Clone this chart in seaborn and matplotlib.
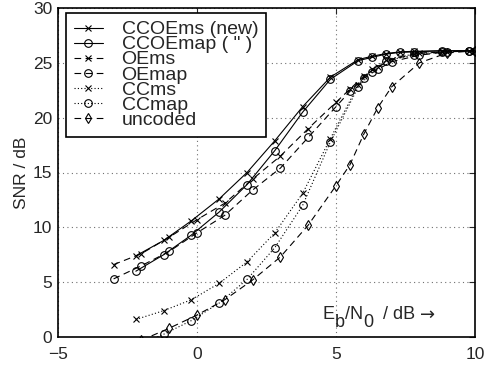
import matplotlib
matplotlib.use("Agg")
import matplotlib.pyplot as plt
import seaborn as sns
import pandas as pd

# ---- data ----
x_ccoe = [-2.2, -1.2, -0.2, 0.8, 1.8, 2.8, 3.8, 4.8, 5.8, 6.3, 6.8, 7.3, 7.8, 8.8, 9.8]
ccoe_ms = [7.4, 8.8, 10.6, 12.6, 15.0, 17.9, 21.0, 23.7, 25.3, 25.6, 25.85, 26.0, 26.05, 26.1, 26.1]
ccoe_map = [6.0, 7.5, 9.3, 11.4, 13.9, 17.0, 20.5, 23.5, 25.2, 25.5, 25.8, 25.95, 26.0, 26.1, 26.1]

x_oe = [-3, -2, -1, 0, 1, 2, 3, 4, 5, 5.5, 6, 6.5, 7, 8, 9, 10]
oe_ms = [6.6, 7.6, 9.1, 10.7, 12.2, 14.4, 16.5, 19.0, 21.4, 22.6, 23.8, 24.6, 25.3, 25.9, 26.0, 26.1]
oe_map = [5.3, 6.5, 7.8, 9.5, 11.1, 13.4, 15.4, 18.2, 21.0, 22.4, 23.6, 24.4, 25.1, 25.7, 26.0, 26.1]

x_cc = [-2.2, -1.2, -0.2, 0.8, 1.8, 2.8, 3.8, 4.8, 5.8, 6.3, 6.8, 7.8, 8.8, 9.8]
cc_ms = [1.6, 2.4, 3.4, 4.9, 6.85, 9.5, 13.1, 18.1, 23.0, 24.4, 25.3, 25.8, 26.0, 26.1]
cc_map = [-0.8, 0.25, 1.5, 3.1, 5.25, 8.15, 12.0, 17.8, 22.8, 24.2, 25.2, 25.7, 26.0, 26.1]

x_unc = [-2, -1, 0, 1, 2, 3, 4, 5, 5.5, 6, 6.5, 7, 8, 9, 10]
uncoded = [-0.3, 0.8, 2.0, 3.4, 5.2, 7.3, 10.2, 13.8, 15.7, 18.5, 20.9, 22.8, 25.0, 25.9, 26.1]

labels = ["CCOEms (new)", "CCOEmap ( \" )", "OEms", "OEmap", "CCms", "CCmap", "uncoded"]
xticks = [-5, 0, 5, 10]
yticks = [0, 5, 10, 15, 20, 25, 30]

series = [
    (x_ccoe, ccoe_ms, labels[0], "-", "x"),
    (x_ccoe, ccoe_map, labels[1], "-", "o"),
    (x_oe, oe_ms, labels[2], (0, (6, 4)), "x"),
    (x_oe, oe_map, labels[3], (0, (6, 4)), "o"),
    (x_cc, cc_ms, labels[4], (0, (1, 2)), "x"),
    (x_cc, cc_map, labels[5], (0, (1, 2)), "o"),
    (x_unc, uncoded, labels[6], (0, (6, 4)), "d"),
]

sns.set_style("white")
plt.rcParams["font.family"] = ["Liberation Sans", "DejaVu Sans"]

fig = plt.figure(figsize=(4.89, 3.66), dpi=100)
ax = fig.add_axes([58 / 489, 1 - 337 / 366, 417 / 489, 329 / 366])

for xs, ys, lab, ls, mk in series:
    df = pd.DataFrame({"x": xs, "y": ys})
    sns.lineplot(data=df, x="x", y="y", ax=ax, color="black", linestyle=ls,
                 linewidth=0.8, marker=mk, markersize=5.5 if mk != "x" else 4.5,
                 markerfacecolor="none", markeredgecolor="black",
                 markeredgewidth=0.8, label=lab, estimator=None, sort=False)

ax.set_xlim(-5, 10)
ax.set_ylim(0, 30)
ax.set_xticks(xticks)
ax.set_yticks(yticks)
ax.set_xlabel("")
ax.set_ylabel("SNR / dB", fontsize=12.5, labelpad=3)
ax.tick_params(axis="both", which="both", direction="in", length=4, width=0.8,
               top=True, right=True, labelsize=12.5)
ax.tick_params(axis="x", pad=7)
ax.tick_params(axis="y", pad=4)
ax.grid(True, linestyle=(0, (1, 3)), color="#707070", linewidth=0.8)
for s in ax.spines.values():
    s.set_linewidth(1.2)
    s.set_color("black")

# x-axis label written inside the axes, with full-size lowered subscripts
pieces = [("E", 0, None), ("b", -7.5, None), ("/N", 0, None), ("0", -7.5, None),
          ("  / dB ", 0, None), ("\u2192", 0, "DejaVu Sans")]
fig.canvas.draw()
renderer = fig.canvas.get_renderer()
offset = 0.0
for txt, dy, fam in pieces:
    kw = {"family": fam} if fam else {}
    t = ax.annotate(txt, xy=(4.52, 1.6), xycoords="data",
                    xytext=(offset, dy), textcoords="offset pixels",
                    fontsize=13, ha="left", va="baseline", **kw)
    bb = t.get_window_extent(renderer)
    offset += bb.width

leg = ax.legend(loc="upper left", bbox_to_anchor=(0.019, 0.985), borderaxespad=0,
                fontsize=14, frameon=True, fancybox=False, framealpha=1,
                edgecolor="black", handlelength=1.5, handletextpad=0.96,
                labelspacing=-0.13, borderpad=0.4)
leg.get_frame().set_linewidth(1.2)

fig.savefig("out.png", dpi=100)
